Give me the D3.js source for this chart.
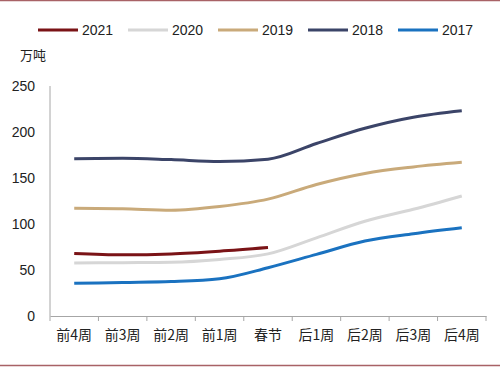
<!DOCTYPE html>
<html lang="zh">
<head>
	<meta charset="UTF-8">
	<title>weekly volume</title>
	<script src="https://d3js.org/d3.v7.min.js"></script>
	<style type="text/css">
		body { margin: 0; background: #fff; }
		text { font-family: "Liberation Sans", Arial, sans-serif; fill: #222; }
		.cjk { font-family: "Noto Sans CJK SC", sans-serif; }
	</style>
</head>
<body>
<script type="text/javascript">

	// categories and series (万吨)
	var weeks = ['前4周', '前3周', '前2周', '前1周', '春节', '后1周', '后2周', '后3周', '后4周'];
	var years = ['2021', '2020', '2019', '2018', '2017'];
	var v2021 = [68, 66.5, 67.5, 70.5, 74.5];
	var v2020 = [57.5, 58, 58.5, 61.5, 67.5, 85, 103, 116, 130.5];
	var v2019 = [117, 116.5, 115, 119, 127, 143, 155, 162, 167];
	var v2018 = [171, 171.5, 170, 168, 170.5, 187.5, 204, 216, 223];
	var v2017 = [35.5, 36.5, 37.5, 40.5, 52.5, 67, 81.5, 89.5, 96];
	var yTicks = [0, 50, 100, 150, 200, 250];
	var colors = ['#7a1316', '#d6d6d6', '#c9aa7a', '#3b4468', '#1a72c0'];

	var width = 500, height = 367;
	var margin = {top: 86, left: 50, bottom: 51, right: 14};

	var svg = d3.select('body').append('svg')
		.attr('width', width)
		.attr('height', height);

	// frame lines top/bottom
	svg.append('line').attr('x1', 0).attr('x2', width).attr('y1', 0.5).attr('y2', 0.5)
		.style('stroke', '#a86266').style('stroke-width', 1.5);
	svg.append('line').attr('x1', 0).attr('x2', width).attr('y1', 365.5).attr('y2', 365.5)
		.style('stroke', '#a86266').style('stroke-width', 1.5);

	var x = d3.scaleBand()
		.domain(weeks)
		.range([margin.left, width - margin.right]);

	var y = d3.scaleLinear()
		.domain([0, 250])
		.range([height - margin.bottom, margin.top]);

	//axes
	svg.append('line')
		.attr('x1', margin.left).attr('x2', margin.left)
		.attr('y1', y(250)).attr('y2', y(0))
		.style('stroke', '#a6a6a6');

	var xAxis = svg.append('g')
		.attr('transform', 'translate(0,' + y(0) + ')')
		.call(d3.axisBottom(x).tickSize(0).tickPadding(14));
	xAxis.select('.domain').style('stroke', '#a6a6a6');
	xAxis.selectAll('text').attr('class', 'cjk').style('font-size', '14px').style('fill', '#222');

	// tick marks on band edges
	var edges = weeks.map(function (d) { return x(d); }).concat([x(weeks[weeks.length - 1]) + x.bandwidth()]);
	svg.selectAll('.xtick')
		.data(edges)
		.enter().append('line')
		.attr('class', 'xtick')
		.attr('x1', function (d) { return d; })
		.attr('x2', function (d) { return d; })
		.attr('y1', y(0)).attr('y2', y(0) + 5)
		.style('stroke', '#a6a6a6');

	svg.selectAll('.ylab')
		.data(yTicks)
		.enter().append('text')
		.attr('class', 'ylab')
		.attr('x', 35)
		.attr('y', function (d) { return y(d); })
		.attr('dy', '0.35em')
		.style('text-anchor', 'end')
		.style('font-size', '14px')
		.text(function (d) { return d; });

	svg.append('text')
		.attr('class', 'cjk')
		.attr('x', 20)
		.attr('y', 60)
		.style('font-size', '13px')
		.text('万吨');

	// lines
	var series = [v2021, v2020, v2019, v2018, v2017];
	var line = d3.line()
		.x(function (d, i) { return x(weeks[i]) + x.bandwidth() / 2; })
		.y(function (d) { return y(d); })
		.curve(d3.curveMonotoneX);

	// draw 2017 first so 2021 ends up on top
	for (var i = series.length - 1; i >= 0; i--) {
		svg.append('path')
			.datum(series[i])
			.attr('d', line)
			.style('fill', 'none')
			.style('stroke', colors[i])
			.style('stroke-width', 3);
	}

	// Legend //
	var legend = svg.selectAll('.info')
		.data(years)
		.enter().append('g')
		.attr('class', 'info')
		.attr('transform', function (d, i) {
			return 'translate(' + (38 + i * 90) + ',30)';
		});
	legend.append('line')
		.attr('x1', 0).attr('x2', 40)
		.style('stroke', function (d, i) { return colors[i]; })
		.style('stroke-width', 3);
	legend.append('text')
		.attr('x', 44)
		.attr('dy', '0.35em')
		.style('font-size', '14px')
		.text(function (d) { return d; });

</script>
</body>
</html>
